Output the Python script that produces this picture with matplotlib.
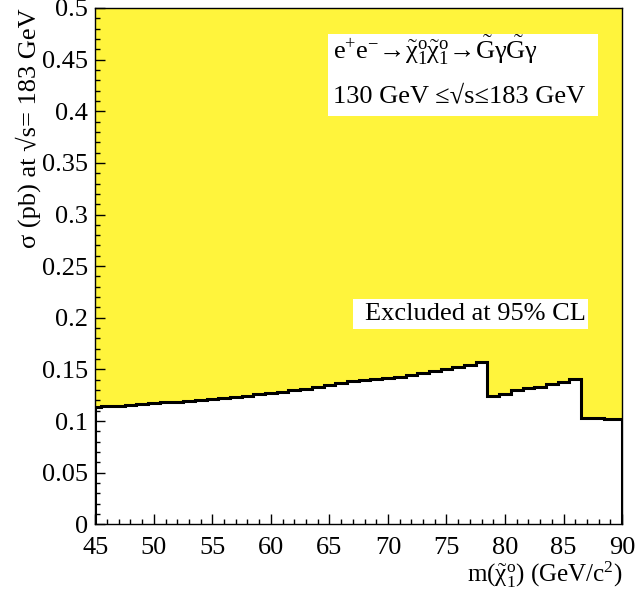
import numpy as np
import matplotlib
matplotlib.use("Agg")
import matplotlib.pyplot as plt
from matplotlib.ticker import MultipleLocator, FixedLocator, FixedFormatter
from matplotlib.patches import Rectangle

plt.rcParams['font.family'] = ['Liberation Serif', 'DejaVu Serif']
plt.rcParams['mathtext.fontset'] = 'custom'
plt.rcParams['mathtext.rm'] = 'Liberation Serif'
plt.rcParams['mathtext.it'] = 'Liberation Serif'
plt.rcParams['mathtext.bf'] = 'Liberation Serif:bold'

# Neutralino mass points (GeV/c^2), one bin per GeV
mass = np.arange(45, 91)
# 95% CL upper limit on the cross section at sqrt(s)=183 GeV (pb)
xsec_limit = [
    0.1135, 0.1142, 0.1150, 0.1158, 0.1165, 0.1172, 0.1180, 0.1188, 0.1196, 0.1205,
    0.1214, 0.1224, 0.1234, 0.1245, 0.1257, 0.1270, 0.1284, 0.1298, 0.1313, 0.1330,
    0.1348, 0.1366, 0.1386, 0.1395, 0.1405, 0.1415, 0.1427, 0.1444, 0.1463, 0.1483,
    0.1502, 0.1521, 0.1544, 0.1570, 0.1243, 0.1266, 0.1301, 0.1318, 0.1333, 0.1357,
    0.1382, 0.1410, 0.1030, 0.1025, 0.1023, 0.1022,
]
ytick_vals = [0, 0.05, 0.1, 0.15, 0.2, 0.25, 0.3, 0.35, 0.4, 0.45, 0.5]
ytick_text = ["0", "0.05", "0.1", "0.15", "0.2", "0.25", "0.3", "0.35", "0.4", "0.45", "0.5"]
xlo, xhi = 45, 90
ylo, yhi = 0, 0.5

vals = np.array(xsec_limit)
edges = np.concatenate([[xlo], mass[:-1] + 0.5, [xhi]])

fig = plt.figure(figsize=(6.38, 5.99), dpi=100)
ax = fig.add_axes([0.1494, 0.1247, 0.8256, 0.862])

yellow = '#fff43c'
ax.fill_between(edges, np.append(vals, vals[-1]), yhi, step='post',
                color=yellow, linewidth=0, zorder=1)
ax.stairs(vals, edges, color='black', linewidth=2.2, zorder=3)

ax.set_xlim(xlo, xhi)
ax.set_ylim(ylo, yhi)

ax.xaxis.set_major_locator(MultipleLocator(5))
ax.xaxis.set_minor_locator(MultipleLocator(1))
ax.yaxis.set_major_locator(FixedLocator(ytick_vals))
ax.yaxis.set_major_formatter(FixedFormatter(ytick_text))
ax.yaxis.set_minor_locator(MultipleLocator(0.01))
ax.tick_params(which='both', direction='in', top=False, right=False,
               labelsize=19, width=1.0, colors='black')
ax.tick_params(which='major', length=7.5)
ax.tick_params(axis='y', which='major', pad=5)
ax.tick_params(axis='x', which='major', pad=9)
ax.tick_params(which='minor', length=3.8)
for sp in ax.spines.values():
    sp.set_linewidth(1.0)
    sp.set_zorder(5)

ax.set_xlabel(r"m($\tilde{\chi}_1^{\mathrm{o}}$) (GeV/c$^2$)", fontsize=18,
              ha='right', x=1.0, labelpad=1)
ax.set_ylabel("σ (pb) at √s= 183 GeV", fontsize=19, ha='right', y=1.0,
              labelpad=1)

t1 = (r"e$^{+}$e$^{-}$→$\tilde{\chi}_1^{\mathrm{o}}\tilde{\chi}_1^{\mathrm{o}}$"
      r"→$\tilde{\mathrm{G}}\gamma\tilde{\mathrm{G}}\gamma$")
t2 = "130 GeV ≤√s≤183 GeV"
# white panel behind the process description
ax.add_patch(Rectangle((0.4426, 0.790), 0.5108, 0.1595, transform=ax.transAxes,
                       facecolor='white', edgecolor='none', zorder=4))
ax.text(0.452, 0.918, t1, transform=ax.transAxes, fontsize=19,
        ha='left', va='center', zorder=6)
ax.text(0.452, 0.828, t2, transform=ax.transAxes, fontsize=19,
        ha='left', va='center', zorder=6)

ax.add_patch(Rectangle((0.4896, 0.378), 0.4466, 0.058, transform=ax.transAxes,
                       facecolor='white', edgecolor='none', zorder=4))
ax.text(0.7215, 0.407, "Excluded at 95% CL", transform=ax.transAxes,
        fontsize=19, ha='center', va='center', zorder=6)

fig.savefig("out.png", dpi=100)
